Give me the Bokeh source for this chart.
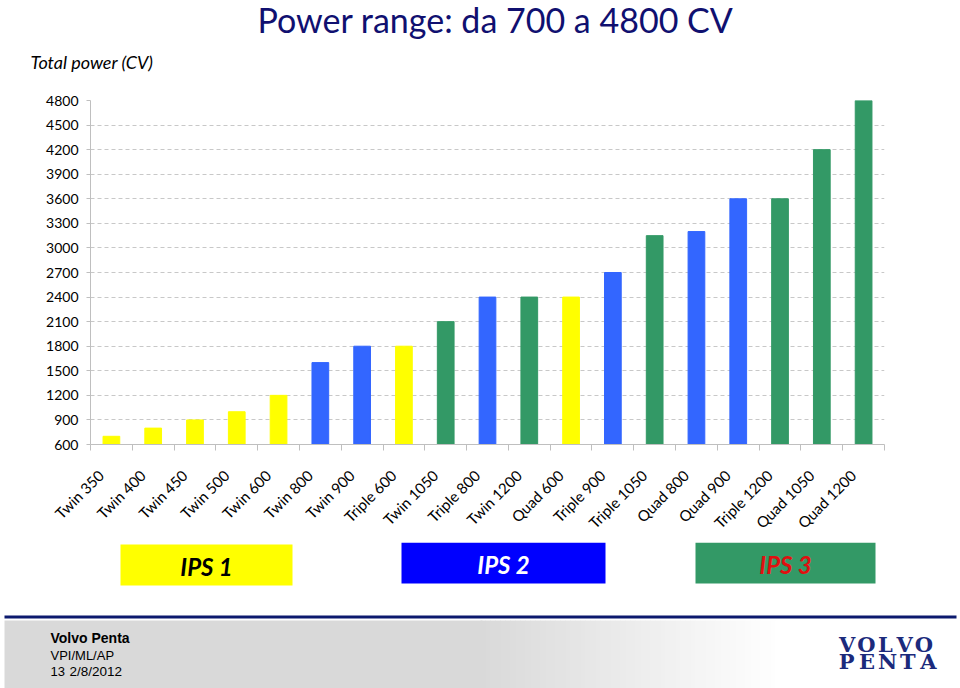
from bokeh.plotting import figure
from bokeh.layouts import column
from bokeh.models import Range1d, FixedTicker, ColumnDataSource
from bokeh.core.properties import value
from bokeh.embed import file_html
from bokeh.resources import INLINE

# ---------------- data ----------------
categories = ["Twin 350", "Twin 400", "Twin 450", "Twin 500", "Twin 600",
              "Twin 800", "Twin 900", "Triple 600", "Twin 1050", "Triple 800",
              "Twin 1200", "Quad 600", "Triple 900", "Triple 1050", "Quad 800",
              "Quad 900", "Triple 1200", "Quad 1050", "Quad 1200"]
power_cv = [700, 800, 900, 1000, 1200, 1600, 1800, 1800, 2100, 2400,
            2400, 2400, 2700, 3150, 3200, 3600, 3600, 4200, 4800]
ips_group = [1, 1, 1, 1, 1, 2, 2, 1, 3, 2, 3, 1, 2, 3, 2, 2, 3, 3, 3]
y_ticks = [600, 900, 1200, 1500, 1800, 2100, 2400, 2700, 3000, 3300,
           3600, 3900, 4200, 4500, 4800]
ips_labels = ["IPS 1", "IPS 2", "IPS 3"]

bar_colors = {1: "#FFFF00", 2: "#3366FF", 3: "#339966"}

W = 960
FONT = value("Lato")

def blank(h):
    f = figure(width=W, height=h, x_range=Range1d(0, W), y_range=Range1d(h, 0),
               x_axis_type=None, y_axis_type=None, toolbar_location=None,
               output_backend="svg", min_border=0, outline_line_color=None,
               frame_align=False)
    f.grid.visible = False
    return f

# ---------------- header ----------------
HH = 90
header = blank(HH)
header.text(x=[495], y=[19], text=["Power range: da 700 a 4800 CV"],
            text_font=FONT, text_font_size="34px", text_color="#101070",
            text_align="center", text_baseline="alphabetic")
header.text(x=[30], y=[61], text=["Total power (CV)"], text_font=FONT,
            text_font_size="18px", text_font_style="italic", text_color="#000000",
            text_align="left", text_baseline="alphabetic")

# ---------------- chart ----------------
n = len(categories)
idx = list(range(n))
label_pos = [i - 0.25 for i in idx]
src = ColumnDataSource(dict(x=idx, top=power_cv, cat=categories,
                            color=[bar_colors[g] for g in ips_group]))
p = figure(width=W, height=452, x_range=Range1d(-0.5, n - 0.5),
           y_range=Range1d(600, 4800), toolbar_location=None, output_backend="svg",
           min_border_left=90, min_border_right=76, min_border_top=10,
           min_border_bottom=98, outline_line_color=None, frame_align=False)
p.vbar(x="x", top="top", bottom=0, width=0.4, color="color", source=src)

p.xaxis.ticker = FixedTicker(ticks=label_pos,
                             minor_ticks=[i - 0.5 for i in range(n + 1)])
p.xaxis.major_label_overrides = {pos: c for pos, c in zip(label_pos, categories)}
p.xaxis.major_label_orientation = 0.785
p.xaxis.major_tick_out = 0
p.xaxis.major_tick_in = 0
p.xaxis.minor_tick_out = 6
p.xaxis.minor_tick_in = 0
p.xaxis.minor_tick_line_color = "#bfbfbf"
p.xaxis.axis_line_color = "#bfbfbf"
p.xaxis.major_label_text_font = "Lato"
p.xaxis.major_label_text_font_size = "15px"
p.xaxis.major_label_text_color = "#000000"
p.xaxis.major_label_standoff = 22

p.yaxis.ticker = FixedTicker(ticks=y_ticks)
p.yaxis.major_tick_out = 4
p.yaxis.major_tick_in = 0
p.yaxis.minor_tick_line_color = None
p.yaxis.major_tick_line_color = "#bfbfbf"
p.yaxis.axis_line_color = "#bfbfbf"
p.yaxis.major_label_text_font = "Lato"
p.yaxis.major_label_text_font_size = "14px"
p.yaxis.major_label_text_color = "#000000"
p.yaxis.major_label_standoff = 8

p.xgrid.visible = False
p.ygrid.grid_line_dash = "4 3"
p.ygrid.grid_line_color = "#c8c8c8"

# ---------------- IPS legend boxes ----------------
IH = 63
ips = blank(IH)
ips.quad(left=[120, 401, 695], right=[292, 605, 875], top=[2, 0, 0],
         bottom=[43, 41, 41], fill_color=["#FFFF00", "#0000FF", "#339966"],
         line_color=None)
ips.text(x=[206, 503, 785], y=[24, 22, 22], text=ips_labels, text_font=FONT,
         text_font_size="24px", text_font_style="bold italic",
         text_color=["#000000", "#FFFFFF", "#E01010"],
         text_align="center", text_baseline="alphabetic")

# ---------------- footer ----------------
FH = 83
footer = blank(FH)
footer.quad(left=[4], right=[482], top=[15], bottom=[FH], fill_color="#d9d9d9",
            line_color=None)
steps = 60
for k in range(steps):
    x0 = 480 + k * 5
    t = (k + 0.5) / steps
    g = int(round(217 + (255 - 217) * t))
    footer.quad(left=[x0], right=[x0 + 5.5], top=[15], bottom=[FH],
                fill_color="#%02x%02x%02x" % (g, g, g), line_color=None)
footer.quad(left=[4], right=[956], top=[10], bottom=[13], fill_color="#0c1a6e",
            line_color=None)
footer.text(x=[50], y=[32], text=["Volvo Penta"], text_font=value("Liberation Sans"),
            text_font_size="14px", text_font_style="bold", text_color="#000000",
            text_baseline="alphabetic")
footer.text(x=[50], y=[50], text=["VPI/ML/AP"], text_font=value("Liberation Sans"),
            text_font_size="13px", text_color="#000000", text_baseline="alphabetic")
footer.text(x=[50], y=[66], text=["13"], text_font=value("Liberation Sans"),
            text_font_size="13px", text_color="#000000", text_baseline="alphabetic")
footer.text(x=[69], y=[66], text=["2/8/2012"], text_font=value("Liberation Sans"),
            text_font_size="13.5px", text_color="#000000", text_baseline="alphabetic")
footer.text(x=[846.6 + 19.2 * i for i in range(5)], y=[39] * 5, text=list("VOLVO"),
            text_font=value("DejaVu Serif"), text_font_size="21px",
            text_font_style="bold", text_color="#1b2a7c", text_align="center",
            text_baseline="alphabetic")
footer.text(x=[846.2 + 20.4 * i for i in range(5)], y=[56] * 5, text=list("PENTA"),
            text_font=value("DejaVu Serif"), text_font_size="21px",
            text_font_style="bold", text_color="#1b2a7c", text_align="center",
            text_baseline="alphabetic")

layout = column(header, p, ips, footer, spacing=0)
open("out.html", "w").write(file_html(layout, INLINE))
